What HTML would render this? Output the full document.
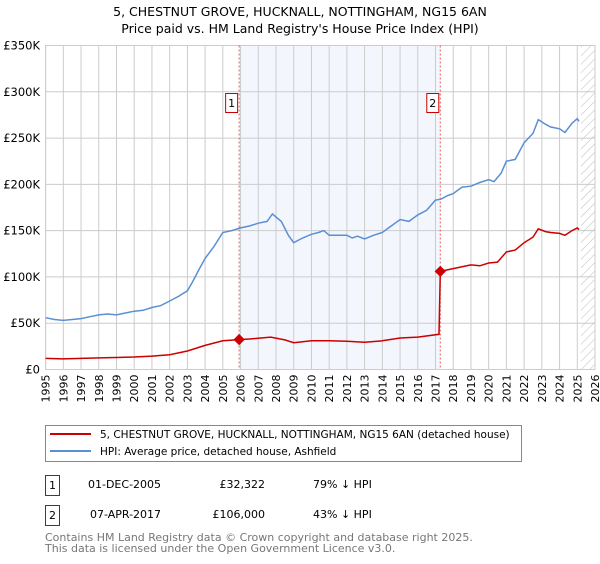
<!DOCTYPE html>
<html><head><meta charset="utf-8"><style>
body{margin:0;background:#fff;font-family:"DejaVu Sans","Liberation Sans",sans-serif;}
svg text{font-family:"DejaVu Sans","Liberation Sans",sans-serif;}
</style></head><body>
<svg id="chart" width="600" height="560" xmlns="http://www.w3.org/2000/svg">
<text x="300" y="16" text-anchor="middle" font-size="12.5">5, CHESTNUT GROVE, HUCKNALL, NOTTINGHAM, NG15 6AN</text>
<text x="300" y="33" text-anchor="middle" font-size="12.5">Price paid vs. HM Land Registry's House Price Index (HPI)</text>
<g id="plot"></g>
<g>
<rect x="45.5" y="425.5" width="476" height="36" fill="#fff" stroke="#888"/>
<line x1="50" y1="434" x2="91" y2="434" stroke="#cc0000" stroke-width="2"/>
<text x="100" y="438" font-size="10.5">5, CHESTNUT GROVE, HUCKNALL, NOTTINGHAM, NG15 6AN (detached house)</text>
<line x1="50" y1="451" x2="91" y2="451" stroke="#5b8fd4" stroke-width="2"/>
<text x="100" y="455" font-size="10.5">HPI: Average price, detached house, Ashfield</text>
</g>
<g font-size="11">
<rect x="45.5" y="475.5" width="14" height="20" fill="#fff" stroke="#cc0000"/>
<text x="52.5" y="489" text-anchor="middle">1</text>
<text x="88" y="488">01-DEC-2005</text>
<text x="265" y="488" text-anchor="end">£32,322</text>
<text x="313" y="488">79% ↓ HPI</text>
<rect x="45.5" y="505.5" width="14" height="20" fill="#fff" stroke="#cc0000"/>
<text x="52.5" y="519" text-anchor="middle">2</text>
<text x="90" y="518">07-APR-2017</text>
<text x="265" y="518" text-anchor="end">£106,000</text>
<text x="313" y="518">43% ↓ HPI</text>
</g>
<text x="45" y="541" font-size="11" fill="#777">Contains HM Land Registry data © Crown copyright and database right 2025.</text>
<text x="45" y="552" font-size="11" fill="#777">This data is licensed under the Open Government Licence v3.0.</text>
</svg>
<script>
const yTicks=[0,50000,100000,150000,200000,250000,300000,350000];
const yTickLabels=["£0","£50K","£100K","£150K","£200K","£250K","£300K","£350K"];
const years=[1995,1996,1997,1998,1999,2000,2001,2002,2003,2004,2005,2006,2007,2008,2009,2010,2011,2012,2013,2014,2015,2016,2017,2018,2019,2020,2021,2022,2023,2024,2025,2026];
const hpiX=[1995,1995.5,1996,1996.5,1997,1997.5,1998,1998.5,1999,1999.5,2000,2000.5,2001,2001.5,2002,2002.5,2003,2003.3,2003.6,2004,2004.5,2005,2005.5,2006,2006.5,2007,2007.5,2007.8,2008.3,2008.7,2009,2009.5,2010,2010.4,2010.7,2011,2011.5,2012,2012.3,2012.6,2013,2013.5,2014,2014.5,2015,2015.5,2016,2016.5,2017,2017.3,2017.7,2018,2018.5,2019,2019.5,2020,2020.3,2020.7,2021,2021.5,2022,2022.5,2022.8,2023.2,2023.5,2024,2024.3,2024.7,2025,2025.1];
const hpiY=[56000,54000,53000,54000,55000,57000,59000,60000,59000,61000,63000,64000,67000,69000,74000,79000,85000,95000,106000,120000,133000,148000,150000,153000,155000,158000,160000,168000,160000,145000,137000,142000,146000,148000,150000,145000,145000,145000,142000,144000,141000,145000,148000,155000,162000,160000,167000,172000,183000,184000,188000,190000,197000,198000,202000,205000,203000,212000,225000,227000,245000,255000,270000,265000,262000,260000,256000,266000,271000,268000];
const ppX=[1995,1996,1997,1998,1999,2000,2001,2002,2003,2004,2005,2005.92,2006.5,2007.7,2008.5,2009,2010,2011,2012,2013,2014,2015,2016,2017.2,2017.27,2018,2019,2019.5,2020,2020.5,2021,2021.5,2022,2022.5,2022.8,2023.2,2023.5,2024,2024.3,2024.7,2025,2025.1];
const ppY=[12000,11500,12000,12500,13000,13500,14500,16000,20000,26000,31000,32322,33000,35000,32000,29000,31000,31000,30500,29500,31000,34000,35000,38000,106000,109000,113000,112000,115000,116000,127000,129000,137000,143000,152000,149000,148000,147000,145000,150000,153000,151000];
const sales=[{x:2005.92,y:32322,label:"1"},{x:2017.27,y:106000,label:"2"}];
const X0=45.6,X1=595,Y0=369.5,Y1=45.5;
const xs=v=>X0+(v-1995)*(X1-X0)/31;
const ys=v=>Y0-v*(Y0-Y1)/350000;
const NS="http://www.w3.org/2000/svg";
const g=document.getElementById('plot');
function mk(t,a){const e=document.createElementNS(NS,t);for(const k in a)e.setAttribute(k,a[k]);g.appendChild(e);return e;}
let e=mk('rect',{x:xs(sales[0].x),y:Y1,width:xs(sales[1].x)-xs(sales[0].x),height:Y0-Y1,fill:'#eef3fc',opacity:0.7});


years.forEach(y=>{const l=mk('line',{x1:xs(y),x2:xs(y),y1:Y1,y2:Y0,stroke:'#ccc'});


const t=mk('text',{x:0,y:0,'font-size':11,'text-anchor':'end',transform:`translate(${xs(y)+4},${Y0+5}) rotate(-90)`});t.textContent=y;

});
yTicks.forEach((v,i)=>{const l=mk('line',{x1:X0,x2:X1,y1:ys(v),y2:ys(v),stroke:'#ccc'});


const t=mk('text',{x:40,y:ys(v)+4,'font-size':11.5,'text-anchor':'end'});t.textContent=yTickLabels[i];

});
const defs=document.createElementNS(NS,'defs');defs.innerHTML='<pattern id="hatch" width="6" height="6" patternUnits="userSpaceOnUse" patternTransform="rotate(45)"><line x1="0" y1="0" x2="0" y2="6" stroke="#bbb" stroke-width="1"/></pattern>';g.appendChild(defs);
e=mk('rect',{x:xs(2025.2),y:Y1,width:X1-xs(2025.2),height:Y0-Y1,fill:'url(#hatch)'});


mk('rect',{x:X0,y:Y1,width:X1-X0,height:Y0-Y1,fill:'none',stroke:'#ccc'});
sales.forEach(s=>{const l=mk('line',{x1:xs(s.x),x2:xs(s.x),y1:Y1,y2:Y0,stroke:'#e06060','stroke-dasharray':'2,2'});


const r=mk('rect',{x:xs(s.x)-13.5,y:93.5,width:12,height:19,fill:'#fff',stroke:'#cc0000'});


const t=mk('text',{x:xs(s.x)-7.5,y:107,'font-size':11,'text-anchor':'middle'});t.textContent=s.label;

});
const path=(X,Y)=>X.map((x,i)=>(i?'L':'M')+xs(x).toFixed(1)+','+ys(Y[i]).toFixed(1)).join('');
e=mk('path',{d:path(hpiX,hpiY),fill:'none',stroke:'#5b8fd4','stroke-width':1.5});


e=mk('path',{d:path(ppX,ppY),fill:'none',stroke:'#cc0000','stroke-width':1.5});


sales.forEach(s=>{const d=mk('rect',{x:xs(s.x)-4,y:ys(s.y)-4,width:8,height:8,fill:'#cc0000',transform:`rotate(45 ${xs(s.x)} ${ys(s.y)})`});

});
</script>
</body></html>
